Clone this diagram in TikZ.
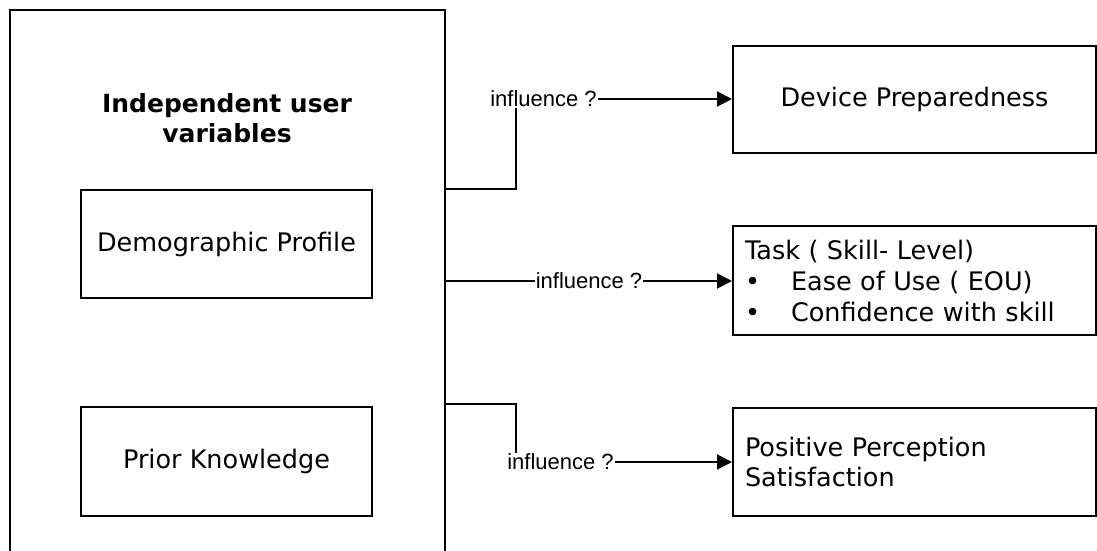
\documentclass[tikz,border=0pt]{standalone}
\usepackage{fontspec}
\setmainfont{DejaVu Sans}
\newfontfamily\labfont{Liberation Sans}
\usetikzlibrary{arrows.meta}
\begin{document}
\begin{tikzpicture}[x=1pt,y=-1pt,
  box/.style={draw, line width=2pt, inner sep=0pt, font=\fontsize{25.5}{30}\selectfont},
  lab/.style={font=\labfont\fontsize{22}{26}\selectfont, inner sep=1pt},
  conn/.style={line width=2pt},
  arr/.style={line width=2pt, -{Triangle[length=15pt,width=15pt]}}]
\useasboundingbox (0,0) rectangle (1097,551);
\fill[white] (0,0) rectangle (1097,551);
\clip (0,0) rectangle (1097,551);
% big container
\node[box, minimum width=435pt, minimum height=640pt, anchor=north west] (big) at (9,9) {};
\node[font=\bfseries\fontsize{25}{30}\selectfont, align=center] (title) at (227,118) {Independent user\\variables};
\node[box, minimum width=291pt, minimum height=108pt] (demo) at (226.5,244) {Demographic Profile};
\node[box, minimum width=291pt, minimum height=109pt] (prior) at (226.5,461.5) {Prior Knowledge};
% right boxes
\node[box, minimum width=363pt, minimum height=107pt] (dev) at (914.5,99.5) {Device Preparedness};
\node[box, minimum width=363pt, minimum height=109pt, text width=339pt, align=left, inner xsep=12pt, font=\fontsize{25.5}{31}\selectfont] (task) at (914.5,280.5)
  {Task ( Skill- Level)\\\makebox[46pt][l]{\textbullet}Ease of Use ( EOU)\\\makebox[46pt][l]{\textbullet}Confidence with skill};
\node[box, minimum width=363pt, minimum height=108pt, text width=339pt, align=left, inner xsep=12pt] (pos) at (914.5,462)
  {Positive Perception\\Satisfaction};
% labels
\node[lab] (l1) at (543.5,99) {influence ?};
\node[lab] (l2) at (589,281) {influence ?};
\node[lab] (l3) at (560.5,462) {influence ?};
% connectors
\coordinate (c1) at (516,189);
\coordinate (c3) at (516,404);
\draw[conn] (big.east |- c1) -- (c1) -- (c1 |- l1.south);
\draw[arr] (l1.east) -- (l1.east -| dev.west);
\draw[conn] (big.east |- l2.west) -- (l2.west);
\draw[arr] (l2.east) -- (l2.east -| task.west);
\draw[conn] (big.east |- c3) -- (c3) -- (c3 |- l3.north);
\draw[arr] (l3.east) -- (l3.east -| pos.west);
\end{tikzpicture}
\end{document}
